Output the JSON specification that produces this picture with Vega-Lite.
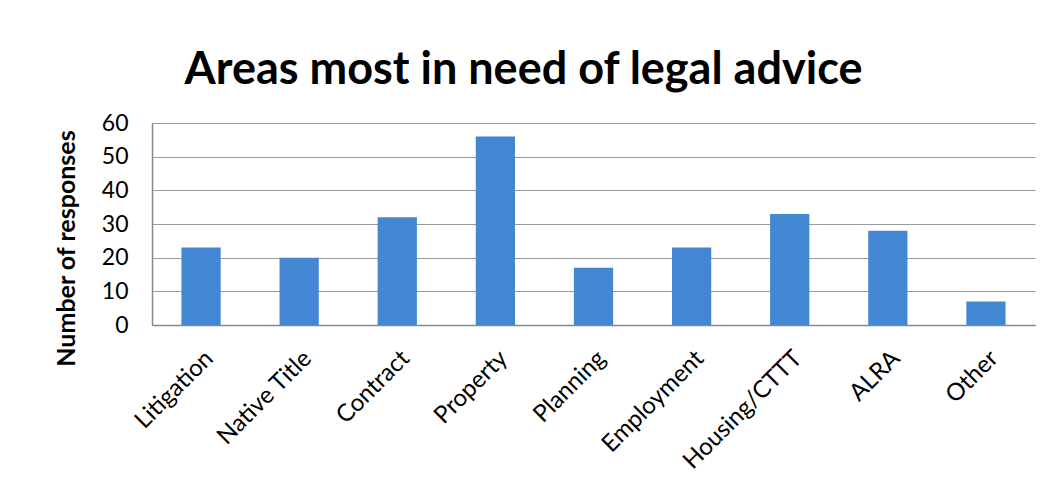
{
  "$schema": "https://vega.github.io/schema/vega-lite/v6.json",
  "autosize": {"type": "none"},
  "width": 883,
  "height": 202,
  "padding": {"left": 152, "top": 123, "right": 26, "bottom": 179},
  "background": "white",
  "title": {
    "text": "Areas most in need of legal advice",
    "font": "Lato",
    "fontSize": 45,
    "fontWeight": "bold",
    "color": "#000000",
    "anchor": "middle",
    "dx": -70,
    "offset": 19
  },
  "data": {
    "values": [
      {"area": "Litigation", "responses": 23},
      {"area": "Native Title", "responses": 20},
      {"area": "Contract", "responses": 32},
      {"area": "Property", "responses": 56},
      {"area": "Planning", "responses": 17},
      {"area": "Employment", "responses": 23},
      {"area": "Housing/CTTT", "responses": 33},
      {"area": "ALRA", "responses": 28},
      {"area": "Other", "responses": 7}
    ]
  },
  "mark": {"type": "bar", "color": "#4386D3"},
  "encoding": {
    "x": {
      "field": "area",
      "type": "nominal",
      "sort": null,
      "title": null,
      "scale": {"paddingInner": 0.6, "paddingOuter": 0.3},
      "axis": {
        "labelAngle": -45,
        "labelFont": "Lato",
        "labelFontSize": 24,
        "labelColor": "#000000",
        "ticks": false,
        "labelPadding": 21,
        "domainColor": "#888888",
        "domainWidth": 1.5
      }
    },
    "y": {
      "field": "responses",
      "type": "quantitative",
      "title": "Number of responses",
      "scale": {"domain": [0, 60]},
      "axis": {
        "values": [0, 10, 20, 30, 40, 50, 60],
        "labelFont": "Lato",
        "labelFontSize": 23,
        "labelColor": "#000000",
        "labelPadding": 24,
        "ticks": false,
        "domainColor": "#888888",
        "domainWidth": 1.5,
        "gridColor": "#999999",
        "gridWidth": 1.2,
        "titleFont": "Lato",
        "titleFontSize": 25,
        "titleFontWeight": "bold",
        "titleColor": "#000000",
        "titlePadding": 22,
        "titleY": 125
      }
    }
  },
  "config": {"view": {"stroke": null}}
}
